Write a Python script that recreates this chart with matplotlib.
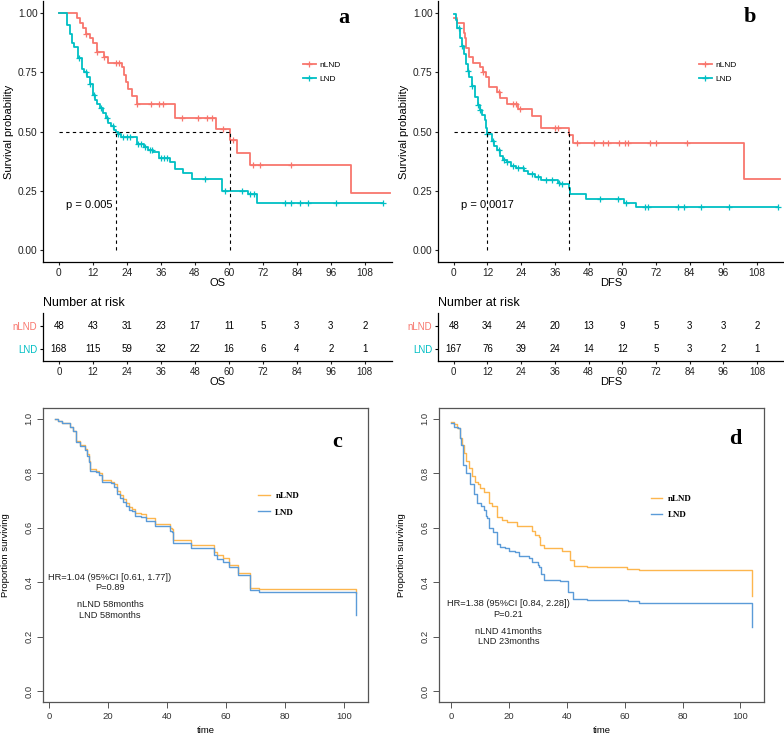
import numpy as np
import matplotlib
matplotlib.use("Agg")
import matplotlib.pyplot as plt
from matplotlib.lines import Line2D

plt.rcParams['font.family'] = ['Liberation Sans', 'DejaVu Sans']

RED = "#F8766D"
CYAN = "#00BFC4"
ORANGE = "#FDB64E"
BLUE = "#5B9BD8"

groups = ["nLND", "LND"]

# ---- panel a (OS, ggsurvplot) ----
a_nlnd_t = [0, 6.5, 7.5, 8.5, 9.5, 11, 12.2, 13.4, 16, 17.5, 22.3, 23, 23.7, 24.5, 25.7, 27.5, 41, 55.5, 60.5, 63, 67.5, 103, 117]
a_nlnd_s = [1.0, 0.979, 0.958, 0.938, 0.913, 0.892, 0.871, 0.833, 0.812, 0.79, 0.77, 0.74, 0.71, 0.68, 0.65, 0.615, 0.555, 0.51, 0.465, 0.41, 0.36, 0.24, 0.24]
a_nlnd_cens = [9.5, 13.5, 16, 20, 21.3, 27.5, 32.4, 35.4, 36.7, 43.4, 49.2, 52.2, 53.9, 58, 61.6, 68.6, 71, 81.9]
a_lnd_t = [0, 2.8, 4, 4.6, 5.2, 6.9, 8.1, 8.7, 10.1, 11, 12.2, 12.8, 13.4, 14.6, 15.7, 16.7, 17.5, 18.3, 19.3, 20.0, 20.7, 22.0, 27.5, 29.9, 31.6, 33.4, 35.5, 39.3, 41, 43.7, 46.9, 57.5, 66.9, 69.8, 114.5]
a_lnd_s = [1.0, 0.948, 0.913, 0.875, 0.857, 0.81, 0.765, 0.75, 0.73, 0.70, 0.653, 0.632, 0.618, 0.597, 0.576, 0.555, 0.537, 0.522, 0.506, 0.50, 0.49, 0.478, 0.449, 0.435, 0.424, 0.414, 0.39, 0.372, 0.344, 0.326, 0.299, 0.25, 0.235, 0.20, 0.20]
a_lnd_cens = [7, 9.5, 11, 12.5, 15, 17, 19, 21, 22.5, 24, 25, 28, 29, 30.5, 32, 33, 36, 37, 38, 51.5, 58.5, 64.5, 67.5, 69, 80, 82, 85, 88, 98, 114.5]
a_pval = "p = 0.005"
a_risk_nlnd = [48, 43, 31, 23, 17, 11, 5, 3, 3, 2]
a_risk_lnd = [168, 115, 59, 32, 22, 16, 6, 4, 2, 1]

# ---- panel b (DFS, ggsurvplot) ----
b_nlnd_t = [0, 1, 3.5, 4, 4.5, 5.5, 7, 9.5, 10.5, 11.5, 12.5, 15.5, 16.5, 19, 23, 28, 31, 41, 42.5, 103.5, 116]
b_nlnd_s = [0.979, 0.958, 0.917, 0.896, 0.854, 0.812, 0.79, 0.77, 0.75, 0.729, 0.688, 0.666, 0.64, 0.618, 0.595, 0.565, 0.515, 0.485, 0.45, 0.30, 0.30]
b_nlnd_cens = [10.5, 16, 21, 22, 23.5, 36, 37, 44, 50, 53, 55, 59, 61, 62, 70, 72, 83]
b_lnd_t = [0, 0.7, 1.2, 2.2, 2.8, 3.8, 4.2, 5, 5.5, 6.5, 7.5, 8.5, 9.5, 10, 11, 11.5, 12, 13.5, 14.5, 15.5, 16.5, 17.5, 19, 20.5, 22, 25, 26.5, 29, 31, 37, 38, 41, 41.5, 47, 60.5, 65, 115.5]
b_lnd_s = [0.994, 0.97, 0.935, 0.895, 0.86, 0.825, 0.785, 0.755, 0.73, 0.69, 0.645, 0.61, 0.59, 0.57, 0.55, 0.515, 0.49, 0.46, 0.44, 0.42, 0.395, 0.38, 0.37, 0.355, 0.345, 0.335, 0.32, 0.31, 0.295, 0.285, 0.28, 0.26, 0.235, 0.215, 0.20, 0.18, 0.18]
b_lnd_cens = [2, 3, 5, 6.5, 8.5, 9.5, 12, 14, 16, 18, 19, 21, 23, 24.5, 28, 30, 33, 35, 37.5, 38.5, 52, 58.5, 61.5, 68, 69, 80, 82, 88, 98, 115.5]
b_pval = "p = 0.0017"
b_risk_nlnd = [48, 34, 24, 20, 13, 9, 5, 3, 3, 2]
b_risk_lnd = [167, 76, 39, 24, 14, 12, 5, 3, 2, 1]

risk_times = [0, 12, 24, 36, 48, 60, 72, 84, 96, 108]

# ---- panel c (OS, base R) ----
c_t = [2, 3, 4.5, 7, 8, 9, 10.5, 12, 13, 13.5, 14, 16, 17, 18, 21, 22, 23, 24, 25, 26, 27, 28, 29, 31, 33, 36, 41, 41.5, 42, 48, 56, 57, 59, 61, 64, 68, 71, 104]
c_nlnd_s = [1.0, 0.993, 0.985, 0.97, 0.955, 0.92, 0.905, 0.89, 0.87, 0.845, 0.815, 0.81, 0.80, 0.775, 0.77, 0.76, 0.735, 0.72, 0.705, 0.69, 0.675, 0.67, 0.655, 0.65, 0.635, 0.615, 0.60, 0.595, 0.555, 0.535, 0.51, 0.50, 0.49, 0.465, 0.435, 0.38, 0.375, 0.36]
c_lnd_s = [1.0, 0.993, 0.985, 0.97, 0.955, 0.915, 0.90, 0.885, 0.865, 0.84, 0.81, 0.805, 0.795, 0.767, 0.765, 0.75, 0.725, 0.71, 0.695, 0.68, 0.665, 0.66, 0.645, 0.64, 0.625, 0.605, 0.59, 0.585, 0.545, 0.525, 0.50, 0.485, 0.475, 0.455, 0.425, 0.37, 0.365, 0.28]
c_text = ["HR=1.04 (95%CI [0.61, 1.77])", "P=0.89", "nLND 58months", "LND 58months"]

# ---- panel d (DFS, base R) ----
d_nlnd_t = [0, 1, 2, 3, 3.8, 4.4, 5.2, 6.1, 7.3, 8.2, 9.3, 10.1, 11.3, 13, 14.2, 15.9, 17.6, 19.4, 22.8, 28, 29.1, 30.3, 30.9, 32, 38.4, 41.2, 42.4, 47, 60.8, 64.9, 104]
d_nlnd_s = [0.99, 0.98, 0.965, 0.93, 0.905, 0.875, 0.845, 0.82, 0.79, 0.77, 0.76, 0.745, 0.73, 0.69, 0.68, 0.64, 0.63, 0.62, 0.605, 0.59, 0.575, 0.565, 0.535, 0.525, 0.515, 0.48, 0.46, 0.455, 0.45, 0.445, 0.35]
d_lnd_t = [0, 1, 2.5, 3, 3.5, 4, 4.2, 5, 6.5, 8, 9, 10.5, 11.5, 12, 12.5, 13, 14.5, 16, 17, 18.5, 20, 22, 23.5, 27, 28, 30, 30.5, 31, 32, 37.5, 40.5, 42, 47, 61, 65, 104]
d_lnd_s = [0.985, 0.97, 0.965, 0.93, 0.905, 0.89, 0.83, 0.80, 0.76, 0.725, 0.69, 0.68, 0.665, 0.645, 0.635, 0.60, 0.585, 0.54, 0.53, 0.525, 0.515, 0.51, 0.495, 0.49, 0.475, 0.465, 0.455, 0.43, 0.41, 0.405, 0.365, 0.34, 0.335, 0.33, 0.325, 0.235]
d_text = ["HR=1.38 (95%CI [0.84, 2.28])", "P=0.21", "nLND 41months", "LND 23months"]


def surv_at(t, s, x):
    t = np.asarray(t)
    s = np.asarray(s)
    idx = np.searchsorted(t, x, side='right') - 1
    return s[np.clip(idx, 0, len(s) - 1)]


def median_time(t, s):
    s = np.asarray(s)
    return np.asarray(t)[np.argmax(s <= 0.5)]


def px_axes(fig, left, top, right, bottom):
    W, H = 784.0, 734.0
    return fig.add_axes([left / W, (H - bottom) / H, (right - left) / W, (bottom - top) / H])


def gg_panel(ax, curves, pval, xlab, letter, letter_xy, leg_anchor):
    meds = []
    for (t, s, cens, col) in curves:
        ax.step(t, s, where='post', color=col, lw=1.3)
        ax.plot(cens, surv_at(t, s, cens), ls='none', marker='+', ms=4.5, mew=0.9, color=col)
        meds.append(median_time(t, s))
    ax.plot([0, max(meds)], [0.5, 0.5], color='black', ls=(0, (3, 3)), lw=0.8)
    for m in meds:
        ax.plot([m, m], [0, 0.5], color='black', ls=(0, (3, 3)), lw=0.8)
    ax.text(2.5, 0.19, pval, fontsize=8, va='center')
    ax.text(letter_xy[0], letter_xy[1], letter, transform=ax.transAxes, fontsize=16,
            fontweight='bold', family='Liberation Serif', ha='center', va='center')
    handles = [Line2D([], [], color=c[3], lw=1.3, marker='+', ms=4.5, mew=0.9) for c in curves]
    ax.legend(handles, groups, loc='upper left', bbox_to_anchor=leg_anchor, frameon=False,
              fontsize=6, handlelength=1.6, handletextpad=0.4, labelspacing=0.65,
              borderpad=0, borderaxespad=0)
    ax.set_xlim(-5.6, 117.6)
    ax.set_ylim(-0.05, 1.05)
    ax.set_xticks(risk_times)
    ax.set_yticks([0, 0.25, 0.5, 0.75, 1.0])
    ax.set_yticklabels(["0.00", "0.25", "0.50", "0.75", "1.00"])
    ax.set_xlabel(xlab, fontsize=8, labelpad=0)
    ax.set_ylabel("Survival probability", fontsize=8, labelpad=3)
    for sp in ['top', 'right']:
        ax.spines[sp].set_visible(False)
    for sp in ['left', 'bottom']:
        ax.spines[sp].set_linewidth(0.9)
    ax.tick_params(labelsize=7.3, length=2.5, width=0.8, pad=1.5, colors='#222222')


def risk_table(ax, nlnd, lnd, xlab):
    for x, n1, n2 in zip(risk_times, nlnd, lnd):
        ax.text(x, 1, str(n1), ha='center', va='center', fontsize=7)
        ax.text(x, 0, str(n2), ha='center', va='center', fontsize=7)
    ax.set_xlim(-5.6, 117.6)
    ax.set_ylim(-0.5, 1.55)
    ax.set_xticks(risk_times)
    ax.set_yticks([1, 0])
    ax.set_yticklabels(groups)
    for lab, col in zip(ax.get_yticklabels(), [RED, CYAN]):
        lab.set_color(col)
    ax.set_xlabel(xlab, fontsize=8, labelpad=0)
    ax.set_title("Number at risk", fontsize=9, loc='left', x=-0.0, pad=5)
    for sp in ['top', 'right']:
        ax.spines[sp].set_visible(False)
    for sp in ['left', 'bottom']:
        ax.spines[sp].set_linewidth(0.9)
    ax.tick_params(labelsize=7, length=2.5, width=0.8, pad=1.5)
    ax.tick_params(axis='x', colors='#222222')


def base_panel(ax, curves, texts, text_x, text_y, letter, letter_xy, leg_anchor):
    for (t, s, col) in curves:
        ax.step(t, s, where='post', color=col, lw=1.0)
    for txt, y in zip(texts, text_y):
        ax.text(text_x, y, txt, ha='center', va='center', fontsize=6.7, color='#222222')
    ax.text(letter_xy[0], letter_xy[1], letter, transform=ax.transAxes, fontsize=16,
            fontweight='bold', family='Liberation Serif', ha='center', va='center')
    handles = [Line2D([], [], color=c[2], lw=1.0) for c in curves]
    ax.legend(handles, groups, loc='upper left', bbox_to_anchor=leg_anchor, frameon=False,
              handlelength=1.3, handletextpad=0.6, labelspacing=0.9,
              borderpad=0, borderaxespad=0,
              prop={'family': 'Liberation Serif', 'weight': 'bold', 'size': 6.5})
    ax.set_ylim(-0.04, 1.04)
    ax.set_yticks([0, 0.2, 0.4, 0.6, 0.8, 1.0])
    ax.set_yticklabels(["0.0", "0.2", "0.4", "0.6", "0.8", "1.0"], rotation=90, va='center')
    ax.set_xticks([0, 20, 40, 60, 80, 100])
    ax.set_xlabel("time", fontsize=6.8, labelpad=4)
    ax.set_ylabel("Proportion surviving", fontsize=6.8, labelpad=10)
    for sp in ax.spines.values():
        sp.set_color('#555555')
        sp.set_linewidth(0.9)
    ax.tick_params(labelsize=6.8, length=4, width=0.7, color='#555555', labelcolor='#333333', pad=3)


fig = plt.figure(figsize=(7.84, 7.34), dpi=100)

ax_a = px_axes(fig, 43, 1, 392, 262)
gg_panel(ax_a, [(a_nlnd_t, a_nlnd_s, a_nlnd_cens, RED), (a_lnd_t, a_lnd_s, a_lnd_cens, CYAN)],
         a_pval, "OS", "a", (0.862, 0.935), (0.744, 0.768))

ax_b = px_axes(fig, 438, 1, 784, 262)
gg_panel(ax_b, [(b_nlnd_t, b_nlnd_s, b_nlnd_cens, RED), (b_lnd_t, b_lnd_s, b_lnd_cens, CYAN)],
         b_pval, "DFS", "b", (0.90, 0.94), (0.753, 0.768))

ax_ra = px_axes(fig, 43, 313, 392, 361)
risk_table(ax_ra, a_risk_nlnd, a_risk_lnd, "OS")
ax_rb = px_axes(fig, 438, 313, 784, 361)
risk_table(ax_rb, b_risk_nlnd, b_risk_lnd, "DFS")

ax_c = px_axes(fig, 43, 408, 368, 702)
ax_c.set_xlim(-2.08, 108.08)
base_panel(ax_c, [(c_t, c_nlnd_s, ORANGE), (c_t, c_lnd_s, BLUE)], c_text, 20.6,
           [0.418, 0.379, 0.319, 0.278], "c", (0.905, 0.885), (0.662, 0.715))

ax_d = px_axes(fig, 439, 408, 764, 702)
ax_d.set_xlim(-4.16, 108.16)
base_panel(ax_d, [(d_nlnd_t, d_nlnd_s, ORANGE), (d_lnd_t, d_lnd_s, BLUE)], d_text, 19.9,
           [0.322, 0.282, 0.22, 0.181], "d", (0.911, 0.894), (0.651, 0.706))

fig.savefig("out.png", dpi=100)
